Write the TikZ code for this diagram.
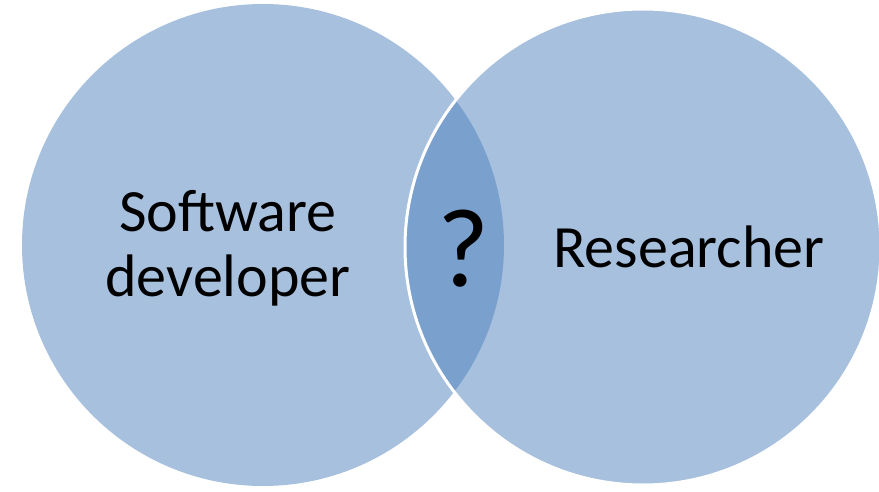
\documentclass[tikz,border=0pt]{standalone}
\usepackage{fontspec}
\setmainfont{Carlito}
\usetikzlibrary{positioning}

\definecolor{vennblue}{HTML}{4F81BD}

\tikzset{
  venn/.style={circle,inner sep=0pt,outer sep=0pt,fill=vennblue,fill opacity=0.5},
  label text/.style={font=\fontsize{60}{65}\selectfont,text=black,inner sep=0pt}
}

\begin{document}
\begin{tikzpicture}[x=1pt,y=-1pt]

    % page frame
    \useasboundingbox (0,0) rectangle (879,492);

    % software developer circle
    \node[venn,minimum size=482pt] (dev) at (263,245) {};

    % researcher circle, white rim over the first one
    \node[venn,minimum size=476pt,draw=white,line width=3pt] (res) at (643,247) {};

    % labels
    \node[label text,align=center] (devtext) at (228,248) {Software\\developer};
    \node[label text,anchor=base] (restext) at (689,267) {Researcher};

    % overlap
    \node[font=\fontsize{112}{120}\selectfont,inner sep=0pt,anchor=base] (ask) at (463,287) {?};

\end{tikzpicture}
\end{document}
